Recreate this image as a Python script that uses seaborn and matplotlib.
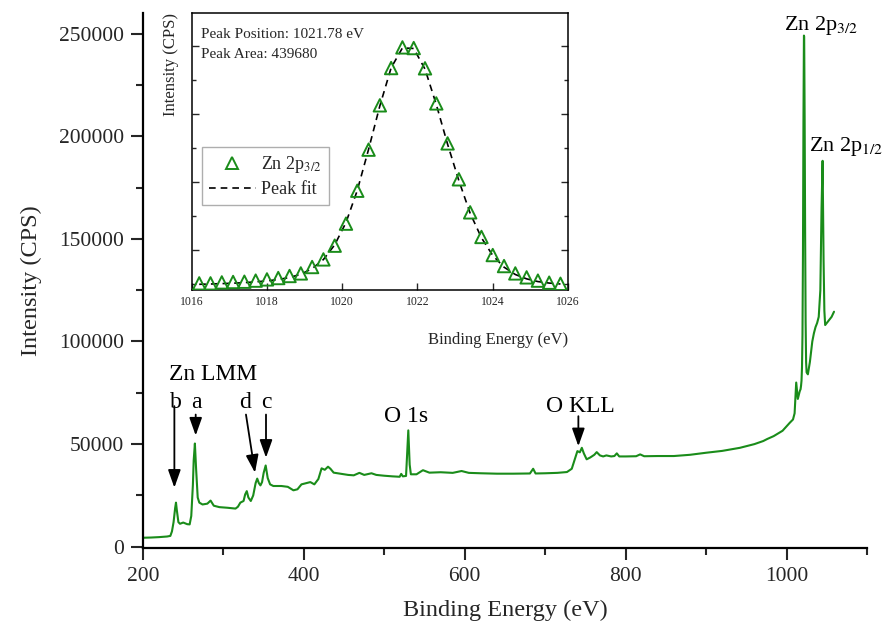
import matplotlib
matplotlib.use("Agg")
import matplotlib.pyplot as plt
from matplotlib.ticker import MultipleLocator
from matplotlib.lines import Line2D
import pandas as pd
import seaborn as sns

# ---- survey spectrum (binding energy in eV, intensity in CPS) ----
survey_energy = [
    200, 210, 220, 230, 234, 236, 238, 240, 241, 242, 244, 246, 250, 255, 258,
    260, 262, 263, 264.5, 266, 268, 270, 274, 280, 284, 288, 295, 305, 315, 318,
    321, 325, 327, 329, 331, 334, 337, 340, 342, 344, 346, 348, 350, 352.5, 355,
    358, 362, 372, 380, 387, 392, 397, 403, 408, 413, 418, 422, 426, 430, 433,
    437, 445, 455, 462, 469, 475, 484, 490, 500, 510, 519, 521, 523, 527, 529.8,
    531.5, 533, 540, 548, 556, 570, 585, 596, 605, 620, 640, 660, 681, 685, 688,
    700, 715, 727, 733, 737, 740, 743, 745.5, 748, 751.5, 756, 761, 764, 768,
    772, 776, 782, 786, 789, 792, 800, 813, 818, 823, 840, 860, 880, 900, 920,
    942, 960, 971, 976, 984, 995, 1004, 1008, 1010, 1012, 1014,
    1016.2, 1016.8, 1017.4, 1018.0, 1018.6, 1019.2, 1019.8, 1020.4, 1021.0,
    1021.6, 1021.9, 1022.5, 1023.1, 1023.7, 1024.3, 1024.9,
    1026.5, 1029, 1032, 1034, 1036, 1038, 1040, 1042, 1043.5, 1044.8, 1046, 1047, 1048,
    1052, 1056, 1059,
]
survey_counts = [
    4400, 4500, 4700, 5000, 5300, 7500, 12000, 19000, 21500, 18000, 12000, 11200, 11800, 11000, 10900,
    15000, 30000, 42000, 50300, 38000, 24000, 21500, 20600, 21000, 22500, 20000, 19300, 19000, 18600, 19500,
    21500, 22300, 25500, 27100, 24000, 22300, 25000, 31000, 33200, 31000, 29900, 31500, 36000, 39600, 33500,
    30400, 29600, 29600, 29200, 27500, 28000, 30400, 31000, 31500, 30400, 33000, 38200, 37500, 39000, 38000,
    36100, 35600, 35000, 34800, 36000, 35000, 35800, 35000, 34600, 34300, 34100, 35500, 34300, 34500, 56700,
    40000, 35300, 35300, 37300, 36100, 36300, 36000, 36900, 36000, 35800, 35600, 35600, 35700, 38000, 35700,
    35800, 36000, 36400, 38000, 43000, 46600, 46000, 48200, 45500, 42600, 43500, 44800, 46100, 44500,
    44000, 44500, 44000, 44200, 45500, 44000, 44000, 44100, 45000, 44100, 44200, 44200, 44800, 45800, 46700,
    48200, 50000, 51500, 52500, 53900, 56500, 60400, 62000, 65000, 80000, 72000,
    75500, 76200, 76700, 78400, 80900, 87500, 103200, 143600, 206400,
    249000, 248500, 207800, 152000, 109600, 90000, 85000,
    84000, 90000, 100000, 104000, 107000, 109000, 112000, 125000, 165000, 188000, 140000, 115000, 108000,
    110000, 112000, 114500,
]

# ---- Zn 2p3/2 high-resolution region ----
hr_energy = [
    1016.2, 1016.5, 1016.8, 1017.1, 1017.4, 1017.7, 1018.0, 1018.3, 1018.6, 1018.9, 1019.2,
    1019.5, 1019.8, 1020.1, 1020.4, 1020.7, 1021.0, 1021.3, 1021.6, 1021.9, 1022.2, 1022.5,
    1022.8, 1023.1, 1023.4, 1023.7, 1024.0, 1024.3, 1024.6, 1024.9, 1025.2, 1025.5, 1025.8,
]
hr_counts = [
    75500, 75500, 76200, 76500, 76700, 77500, 78400, 79400, 80900, 82800, 87500,
    93100, 103200, 119400, 143600, 173800, 206400, 233800, 249000, 248500, 233600, 207800,
    178400, 152000, 127700, 109600, 96300, 88200, 82800, 79900, 77500, 76000, 75200,
]
fit_counts = [
    74800, 75000, 75300, 75600, 76000, 76600, 77300, 78300, 79800, 82200, 86300,
    93000, 103800, 120200, 143800, 174000, 206000, 234000, 248600, 248200, 233000, 207000,
    177800, 151000, 127000, 109000, 96000, 87400, 82000, 78800, 76800, 75700, 75000,
]
peak_position = 1021.78
peak_area = 439680

GREEN = "#1a8c1a"

survey = pd.DataFrame({"energy": survey_energy, "intensity": survey_counts})
hr = pd.DataFrame({"energy": hr_energy, "intensity": hr_counts, "fit": fit_counts})

sns.set_theme(style="ticks")
plt.rcParams["font.family"] = ["Liberation Serif", "DejaVu Serif"]
plt.rcParams["mathtext.fontset"] = "stix"

fig = plt.figure(figsize=(8.86, 6.28), dpi=100)
W, H = 886, 628
ax = fig.add_axes([143 / W, 1 - 548 / H, (867 - 143) / W, (548 - 13) / H])

sns.lineplot(data=survey, x="energy", y="intensity", ax=ax, color=GREEN,
             linewidth=1.5, estimator=None, sort=False)

ax.set_xlim(200, 1100)
ax.set_ylim(-600, 260000)
ax.xaxis.set_major_locator(MultipleLocator(200))
ax.xaxis.set_minor_locator(MultipleLocator(100))
ax.yaxis.set_major_locator(MultipleLocator(50000))
ax.yaxis.set_minor_locator(MultipleLocator(25000))
ax.tick_params(which="major", direction="out", length=8.5, width=1.5, labelsize=15.5, pad=5)
ax.tick_params(which="minor", direction="out", length=5, width=1.5)
sns.despine(ax=ax)
for s in ("left", "bottom"):
    ax.spines[s].set_linewidth(1.6)
    ax.spines[s].set_color("black")
ax.set_xlabel("Binding Energy (eV)", fontsize=17.5, labelpad=10)
ax.set_ylabel("Intensity (CPS)", fontsize=17.5, labelpad=12)

# peak labels
lab = dict(fontsize=17, ha="center", va="center", color="black")
ax.text(287, 83900, "Zn LMM", **lab)
for txt, e in (("b", 241), ("a", 266.8), ("d", 326.8), ("c", 352.9)):
    ax.text(e, 70100, txt, **lab)
ax.text(527, 63600, "O 1s", **lab)
ax.text(743.3, 68500, "O KLL", **lab)
zn = dict(fontsize=16, ha="center", va="center", color="black")
ax.text(1043, 254000, "Zn 2p$_{3/2}$", **zn)
ax.text(1074, 194800, "Zn 2p$_{1/2}$", **zn)

arrow = dict(arrowstyle="-|>,head_length=0.9,head_width=0.32", color="black", lw=1.3,
             shrinkA=0, shrinkB=0)
for (e0, i0), (e1, i1) in (((239, 68500), (239, 28800)),
                           ((265.5, 64400), (265.5, 54200)),
                           ((328, 64400), (339.2, 36100)),
                           ((352.9, 64400), (352.9, 43400)),
                           ((741.2, 63600), (741.2, 49000))):
    ax.annotate("", xy=(e1, i1), xytext=(e0, i0), arrowprops=arrow)

# ---- inset ----
ins = fig.add_axes([191.7 / W, 1 - 290 / H, (568 - 191.7) / W, (290 - 12.7) / H])
sns.lineplot(data=hr, x="energy", y="fit", ax=ins, color="black", linewidth=1.2,
             linestyle=(0, (4, 3)), estimator=None, sort=False)
sns.scatterplot(data=hr, x="energy", y="intensity", ax=ins, marker="^", s=80,
                facecolors="none", edgecolors=GREEN, linewidth=1.4, zorder=3)
ins.set_xlim(1016, 1026)
ins.set_ylim(70600, 274500)
ins.xaxis.set_major_locator(MultipleLocator(2))
ins.yaxis.set_major_locator(MultipleLocator(50000))
ins.yaxis.set_minor_locator(MultipleLocator(25000))
ins.tick_params(which="both", direction="in", left=True, right=True, top=False,
                bottom=True, labelleft=False, labelsize=8.5, width=1.0, pad=4)
ins.tick_params(which="major", length=5)
ins.tick_params(which="minor", length=3)
for s in ins.spines.values():
    s.set_linewidth(1.1)
    s.set_color("black")
ins.set_xlabel("Binding Energy (eV)", fontsize=12, labelpad=8)
ins.xaxis.set_label_coords(1.0, -0.15)
ins.xaxis.label.set_ha("right")
ins.set_ylabel("Intensity (CPS)", fontsize=12, labelpad=4)
ins.yaxis.set_label_coords(-0.035, 1.0)
ins.yaxis.label.set_va("bottom")
ins.yaxis.label.set_ha("right")

ins.text(0.026, 0.92, f"Peak Position: {peak_position} eV", transform=ins.transAxes,
         fontsize=11, ha="left", va="center")
ins.text(0.026, 0.85, f"Peak Area: {peak_area}", transform=ins.transAxes,
         fontsize=11, ha="left", va="center")

handles = [
    Line2D([], [], linestyle="none", marker="^", markersize=9, markerfacecolor="none",
           markeredgecolor=GREEN, markeredgewidth=1.4),
    Line2D([], [], color="black", linewidth=1.2, linestyle=(0, (4, 3))),
]
leg = ins.legend(handles, ["Zn 2p$_{3/2}$", "Peak fit"], loc="upper left",
                 bbox_to_anchor=(0.0266, 0.517), borderaxespad=0, fontsize=13,
                 frameon=True, fancybox=False, edgecolor="#9a9a9a", handlelength=2.6,
                 handletextpad=0.3, labelspacing=0.35, borderpad=0.4)
leg.get_frame().set_linewidth(1.0)

fig.savefig("out.png", dpi=100)
